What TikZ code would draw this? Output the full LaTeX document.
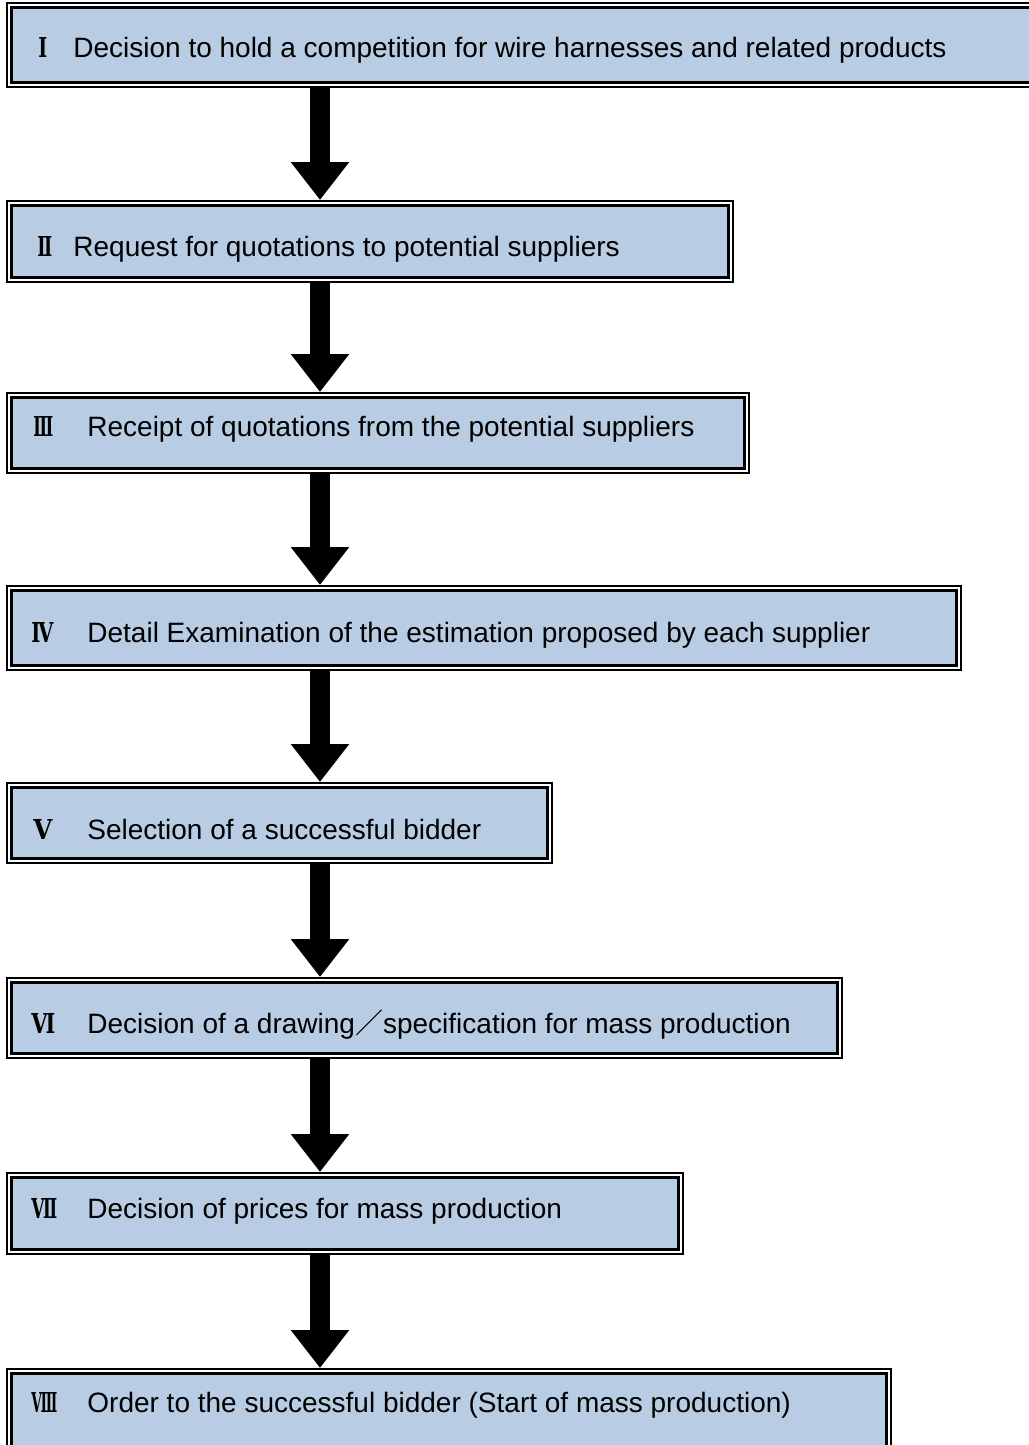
\documentclass[tikz,border=0pt]{standalone}
\usepackage{fontspec}
\setmainfont{Liberation Sans}
\newfontfamily\rnfont{DejaVu Serif}
\newfontfamily\cjkfont{Noto Sans CJK JP}
\usetikzlibrary{arrows.meta}
\definecolor{boxblue}{RGB}{184,204,228}
\newcommand\rnum[2]{\resizebox{#1}{10pt}{\rnfont\bfseries #2}}
\begin{document}
\begin{tikzpicture}[x=0.5pt,y=-0.5pt,
  stepbox/.style={anchor=north west,fill=white,draw=none,inner sep=0pt,outer sep=0pt},
  outerline/.style={draw=black,line width=1pt},
  innerline/.style={draw=black,line width=1.5pt,fill=boxblue},
  txt/.style={anchor=base west,inner sep=0pt,font=\fontsize{14pt}{16pt}\selectfont},
  rn/.style={anchor=base west,inner sep=0pt},
  flow/.style={line width=10pt,-{Triangle[width=28pt,length=19pt]}}]
\useasboundingbox (0,0) rectangle (1028,1445);
\coordinate (ax) at (320,0);
% boxes
\node[stepbox,minimum width=517pt,minimum height=43pt] (b1) at (6,2) {};
\node[stepbox,minimum width=364pt,minimum height=41.5pt] (b2) at (6,200) {};
\node[stepbox,minimum width=372pt,minimum height=41pt] (b3) at (6,392) {};
\node[stepbox,minimum width=478pt,minimum height=43pt] (b4) at (6,585) {};
\node[stepbox,minimum width=273.5pt,minimum height=41pt] (b5) at (6,782) {};
\node[stepbox,minimum width=418.5pt,minimum height=41pt] (b6) at (6,977) {};
\node[stepbox,minimum width=339pt,minimum height=41.5pt] (b7) at (6,1172) {};
\node[stepbox,minimum width=443pt,minimum height=46pt] (b8) at (6,1368) {};
\foreach \b in {b1,b2,b3,b4,b5,b6,b7,b8}{
  \draw[outerline] ([shift={(1,1)}]\b.north west) rectangle ([shift={(-1,-1)}]\b.south east);
  \draw[innerline] ([shift={(5.5,5.5)}]\b.north west) rectangle ([shift={(-5.5,-5.5)}]\b.south east);
}
% numerals
\node[rn] (n1) at (38,58) {\rnum{4.5pt}{Ⅰ}};
\node[rn] (n2) at (37,256) {\rnum{7.5pt}{Ⅱ}};
\node[rn] (n3) at (33,436) {\rnum{10pt}{Ⅲ}};
\node[rn] (n4) at (31,642) {\rnum{11pt}{Ⅳ}};
\node[rn] (n5) at (33,839) {\rnum{9.5pt}{Ⅴ}};
\node[rn] (n6) at (31,1033) {\rnum{12pt}{Ⅵ}};
\node[rn] (n7) at (31,1218) {\rnum{13pt}{Ⅶ}};
\node[rn] (n8) at (31,1412) {\rnum{13pt}{Ⅷ}};
% texts
\node[txt] (t1) at (73,58) {Decision to hold a competition for wire harnesses and related products};
\node[txt] (t2) at (73,256) {Request for quotations to potential suppliers};
\node[txt] (t3) at (87,436) {Receipt of quotations from the potential suppliers};
\node[txt] (t4) at (87,642) {Detail Examination of the estimation proposed by each supplier};
\node[txt] (t5) at (87,839) {Selection of a successful bidder};
\node[txt] (t6) at (87,1033) {Decision of a drawing{\cjkfont ／}specification for mass production};
\node[txt] (t7) at (87,1218) {Decision of prices for mass production};
\node[txt] (t8) at (87,1412) {Order to the successful bidder (Start of mass production)};
% arrows
\draw[flow] (b1.south -| ax) -- (b2.north -| ax);
\draw[flow] (b2.south -| ax) -- (b3.north -| ax);
\draw[flow] (b3.south -| ax) -- (b4.north -| ax);
\draw[flow] (b4.south -| ax) -- (b5.north -| ax);
\draw[flow] (b5.south -| ax) -- (b6.north -| ax);
\draw[flow] (b6.south -| ax) -- (b7.north -| ax);
\draw[flow] (b7.south -| ax) -- (b8.north -| ax);
\end{tikzpicture}
\end{document}
